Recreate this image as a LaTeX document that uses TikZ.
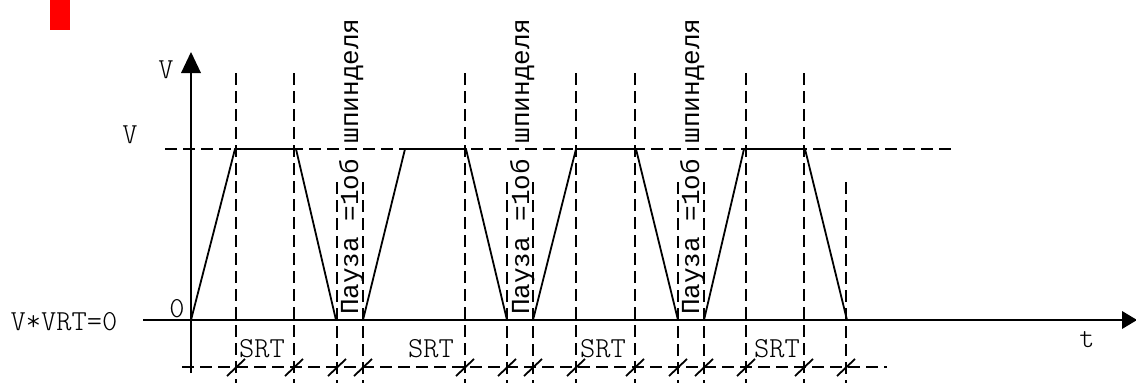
\documentclass[tikz,border=0pt]{standalone}
\usepackage{fontspec}
\newfontfamily\cour{Liberation Mono}
\begin{document}
\begin{tikzpicture}[x=1pt,y=-1pt,
  solidln/.style={line width=1.8pt,line join=miter},
  dashln/.style={line width=1.6pt,dash pattern=on 12pt off 6pt},
  lbl/.style={inner sep=0pt,font=\ttfamily\fontseries{l}\selectfont\fontsize{29}{29}\selectfont},
  cyr/.style={inner sep=0pt,font=\cour\fontsize{26}{26}\selectfont}]
\useasboundingbox (0,0) rectangle (1136,383);
% red marker
\fill[red] (50,0) rectangle (70,30);
% axes
\coordinate (vtop) at (191,72);
\coordinate (vbot) at (191,373);
\coordinate (tl) at (143,320);
\coordinate (tr) at (1123,320);
\draw[solidln] (vbot) -- (vtop);
\fill (191,52) -- (181,73) -- (201,73) -- cycle;
\draw[solidln] (tl) -- (tr);
\fill (1137,320) -- (1122,311) -- (1122,329) -- cycle;
% V level
\coordinate (vl) at (165,149);
\coordinate (vr) at (953,149);
\draw[dashln] (vl) -- (vr);
% bottom dashed line
\coordinate (bl) at (182,367);
\coordinate (br) at (887,367);
\draw[dashln] (bl) -- (br);
% tall dashed verticals
\foreach \x in {236,294,465,576,635,746,804}{
  \draw[dashln] (\x,73) -- (\x,384);
}
% short dashed verticals
\foreach \x in {337,363,507,533,678,704,846}{
  \draw[dashln] (\x,182) -- (\x,384);
}
% ticks
\foreach \x in {236,294,337,363,465,507,533,576,635,678,704,746,804,846}{
  \draw[line width=1.8pt] (\x-9,376) -- (\x+9,359);
}
% trapezoids
\draw[solidln] (191,320) -- (235,149) -- (296,149) -- (336,320);
\draw[solidln] (363,320) -- (405,149) -- (466,149) -- (507,320);
\draw[solidln] (533,320) -- (576,149) -- (636,149) -- (678,320);
\draw[solidln] (704,320) -- (744,149) -- (805,149) -- (847,320);
% labels
\node[lbl] (Vtop) at (166,70) {V};
\node[lbl] (Vlev) at (130,135) {V};
\node[lbl] (zero) at (177,309) {0};
\node[lbl] (vvrt) at (64,322) {V*VRT=0};
\node[lbl] (tlab) at (1087,340) {t};
\node[lbl] (srt1) at (262,349) {SRT};
\node[lbl] (srt2) at (431,349) {SRT};
\node[lbl] (srt3) at (603,349) {SRT};
\node[lbl] (srt4) at (777,349) {SRT};
\node[cyr,rotate=90,anchor=base west] (p1) at (358,315) {Пауза =1об шпинделя};
\node[cyr,rotate=90,anchor=base west] (p2) at (529,315) {Пауза =1об шпинделя};
\node[cyr,rotate=90,anchor=base west] (p3) at (699,315) {Пауза =1об шпинделя};
\end{tikzpicture}
\end{document}
